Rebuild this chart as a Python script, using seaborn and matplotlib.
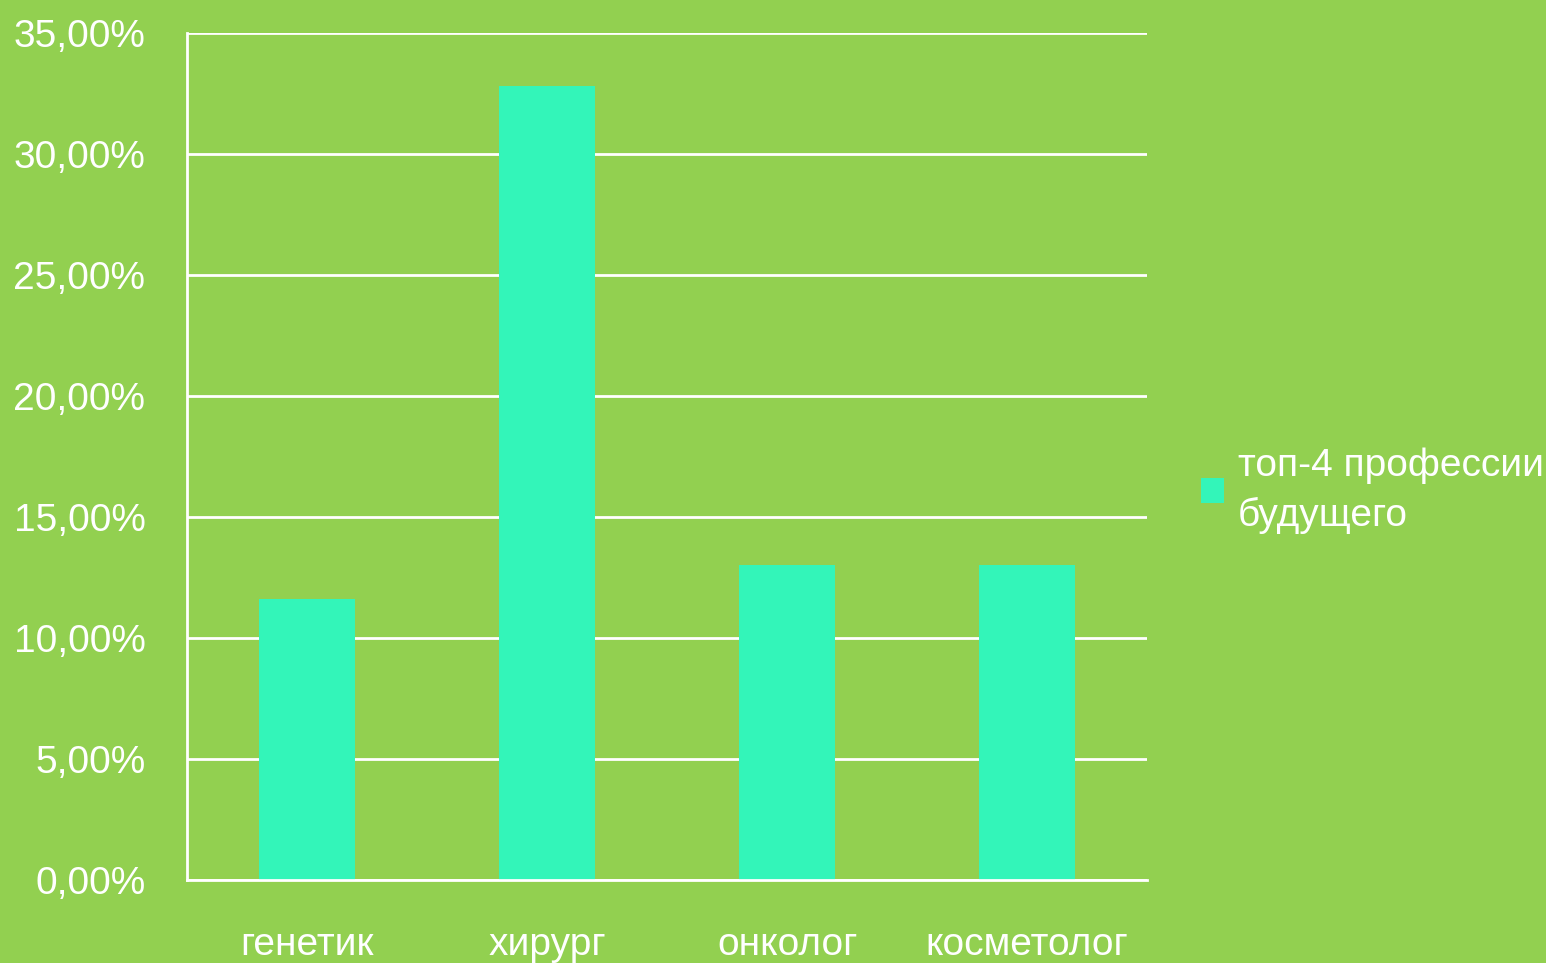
import seaborn as sns
import matplotlib.pyplot as plt
import matplotlib.ticker as mticker
import pandas as pd

# data
professions = ["генетик", "хирург", "онколог", "косметолог"]
shares = [11.6, 32.8, 13.0, 13.0]
series_name = "топ-4 профессии\nбудущего"

bg = "#92D050"
bar_color = "#33F5B9"

sns.set_style("white")
plt.rcParams['font.family'] = ['Liberation Sans Narrow', 'Liberation Sans', 'DejaVu Sans']

df = pd.DataFrame({"prof": professions, "share": shares, "series": series_name})

fig = plt.figure(figsize=(15.46, 9.63), dpi=100, facecolor=bg)
ax = fig.add_axes([0.121, 0.0862, 0.621, 0.8795], facecolor=bg)

sns.barplot(data=df, x="prof", y="share", hue="series", palette=[bar_color],
            width=0.4, saturation=1, linewidth=0, ax=ax)

ax.set_ylim(0, 35)
ax.set_xlim(-0.5, 3.5)
ax.yaxis.set_major_locator(mticker.MultipleLocator(5))
ax.yaxis.set_major_formatter(mticker.FuncFormatter(lambda v, p: f"{v:.2f}%".replace(".", ",")))
ax.grid(axis="y", color="white", linewidth=2)
ax.set_axisbelow(True)

for s in ["top", "right"]:
    ax.spines[s].set_visible(False)
for s in ["left", "bottom"]:
    ax.spines[s].set_color("white")
    ax.spines[s].set_linewidth(2)

ax.set_xticks([-0.5, 0.5, 1.5, 2.5, 3.5], minor=True)
ax.tick_params(axis="x", which="major", length=0, pad=34, labelsize=28, colors="white")
ax.tick_params(axis="x", which="minor", length=11, width=2, color="white", direction="out")
ax.tick_params(axis="y", length=10, width=2, color="white", pad=20, labelsize=28, labelcolor="white")
ax.set_xlabel("")
ax.set_ylabel("")

leg = ax.legend(loc="center left", bbox_to_anchor=(1.04, 0.46), frameon=False,
                fontsize=28, handlelength=0.6, handleheight=0.6, handletextpad=0.35,
                labelcolor="white", borderaxespad=0)
for t in leg.get_texts():
    t.set_linespacing(1.45)

fig.savefig("out.png", dpi=100, facecolor=bg)
